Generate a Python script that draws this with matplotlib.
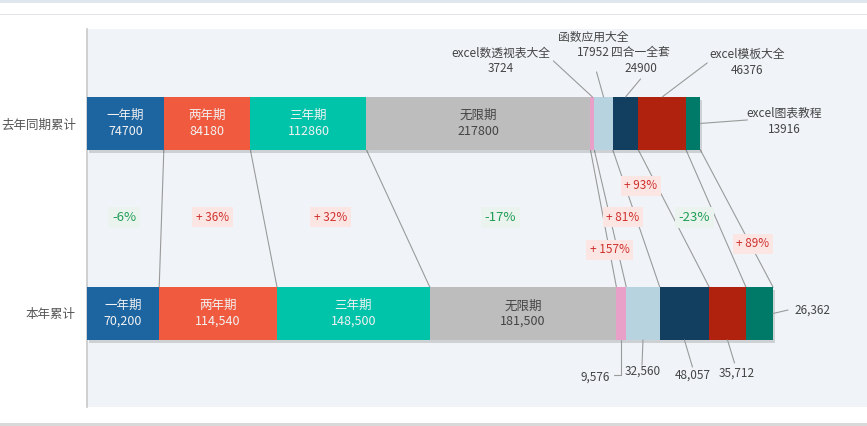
import matplotlib
matplotlib.use('Agg')
import matplotlib.pyplot as plt
import matplotlib.patheffects as pe
from matplotlib.patches import Rectangle
import numpy as np

plt.rcParams['font.family'] = ['Noto Sans CJK SC', 'DejaVu Sans']

# data
products = ['一年期', '两年期', '三年期', '无限期', 'excel数透视表大全',
            '函数应用大全', '四合一全套', 'excel模板大全', 'excel图表教程']
last_year = [74700, 84180, 112860, 217800, 3724, 17952, 24900, 46376, 13916]
this_year = [70200, 114540, 148500, 181500, 9576, 32560, 48057, 35712, 26362]
rows = ['本年累计', '去年同期累计']

colors = ['#1d65a0', '#f05a3e', '#00c4aa', '#bdbdbd', '#e8a0c8',
          '#b8d3e0', '#123e60', '#b0220e', '#007a68']
text_colors = ['#f2f2f2', '#f2f2f2', '#f2f2f2', '#444444']

# layout of the change labels: fraction of the way down between the bars, x nudge (px)
pct_t = [0.49, 0.49, 0.49, 0.49, 0.73, 0.49, 0.26, 0.49, 0.686]
pct_dx = [0, 0, 0, 0, -4, 0, 0, 0, 14]

# outside labels: (leader end offset, text offset) in pixels from the anchor
top_out = {4: ((-39, 36), (-92, 36)),
           5: ((-7, 25), (-10, 52)),
           6: ((15, 18), (15, 36)),
           7: ((45, 34), (85, 34))}
bot_out = {5: ((-1, -25), (0, -31)),
           6: ((8, -27), (8, -35)),
           7: ((7, -23), (9, -33))}

fig = plt.figure(figsize=(8.67, 4.26), dpi=100)
fig.patch.set_facecolor('white')
# page decorations
fig.add_artist(Rectangle((0, 1 - 3/426), 1, 3/426, transform=fig.transFigure, color='#dfe6ee', lw=0))
fig.add_artist(Rectangle((0, 1 - 15/426), 1, 1.2/426, transform=fig.transFigure, color='#e0e4ea', lw=0))
fig.add_artist(Rectangle((0, 0), 1, 3/426, transform=fig.transFigure, color='#d9d9d9', lw=0))

ax = fig.add_axes([87/867, 19/426, 780/867, 378/426])
ax.set_facecolor('#f0f4f8')
for s in ['top', 'right', 'bottom']:
    ax.spines[s].set_visible(False)
ax.spines['left'].set_color('#c8c8c8')
ax.spines['left'].set_linewidth(1.2)

h = 0.279
ax.set_xlim(0, 758400)
ax.set_ylim(-0.492, 1.497)
ax.set_xticks([])
ax.set_yticks([0, 1])
ax.set_yticklabels(rows, fontsize=9, color='#555555')
ax.tick_params(axis='y', length=0, pad=8)

series = {1: np.array(last_year), 0: np.array(this_year)}
cums = {}
for y, vals in series.items():
    left = np.concatenate([[0], np.cumsum(vals)[:-1]])
    cums[y] = np.cumsum(vals)
    # soft shadow under the whole bar
    ax.barh(y, vals.sum(), height=h, left=0, color='#f0f4f8', zorder=2,
            path_effects=[pe.SimplePatchShadow(offset=(1.5, -2), alpha=0.18, shadow_rgbFace='#333333'),
                          pe.Normal()])
    ax.barh(y, vals, height=h, left=left, color=colors, zorder=3)
    for i in range(4):
        val = f'{vals[i]}' if y == 1 else f'{vals[i]:,}'
        ax.text(left[i] + vals[i] / 2, y, f'{products[i]}\n{val}', ha='center', va='center',
                fontsize=9, color=text_colors[i], linespacing=1.25, zorder=4)

# connector lines between segment ends
for k in range(len(products)):
    ax.plot([cums[1][k], cums[0][k]], [1 - h / 2, h / 2], color='#9a9a9a', lw=0.8, zorder=1)

# change labels
ctop = cums[1] - np.array(last_year) / 2
cbot = cums[0] - np.array(this_year) / 2
for i in range(len(products)):
    chg = round((this_year[i] / last_year[i] - 1) * 100)
    t = pct_t[i]
    x = ctop[i] + t * (cbot[i] - ctop[i])
    yy = (1 - h / 2) - t * (1 - h)
    if chg < 0:
        txt, fc, bg, fs = f'{chg}%', '#1f9e55', '#ebf3ef', 9.5
    else:
        txt, fc, bg, fs = f'+ {chg}%', '#d0312d', '#fbe6e4', 8.5
    ax.annotate(txt, xy=(x, yy), xytext=(pct_dx[i], 0), textcoords='offset pixels',
                ha='center', va='center', fontsize=fs, color=fc, zorder=5,
                bbox=dict(boxstyle='square,pad=0.3', fc=bg, ec='none'))

lbl = dict(fontsize=8.5, color='#444444', ha='center', va='center', zorder=5)
line = dict(arrowstyle='-', color='#9a9a9a', lw=0.8, shrinkA=0, shrinkB=0)


def two_line(xy, off, name, value):
    # name above, value below, as separate texts
    ax.annotate(name, xy=xy, xytext=(off[0], off[1] + 8), textcoords='offset pixels', **lbl)
    ax.annotate(value, xy=xy, xytext=(off[0], off[1] - 8), textcoords='offset pixels', **lbl)


# top bar outside labels
for i, (le, te) in top_out.items():
    xy = (ctop[i], 1 + h / 2)
    ax.annotate('', xy=xy, xytext=le, textcoords='offset pixels', arrowprops=line)
    two_line(xy, te, products[i], f'{last_year[i]}')
ax.annotate('', xy=(cums[1][-1], 1), xytext=(47, 3.5), textcoords='offset pixels', arrowprops=line)
two_line((cums[1][-1], 1), (84, 2), products[8], f'{last_year[8]}')

# bottom bar outside labels
for i, (le, te) in bot_out.items():
    xy = (cbot[i], -h / 2)
    ax.annotate('', xy=xy, xytext=le, textcoords='offset pixels', arrowprops=line)
    ax.annotate(f'{this_year[i]:,}', xy=xy, xytext=te, textcoords='offset pixels', **lbl)
ax.annotate('', xy=(cbot[4], -h / 2), xytext=(-7, -35), textcoords='offset pixels',
            arrowprops=dict(line, connectionstyle='angle,angleA=0,angleB=90,rad=0'))
ax.annotate(f'{this_year[4]:,}', xy=(cbot[4], -h / 2), xytext=(-26, -37),
            textcoords='offset pixels', **lbl)
ax.annotate('', xy=(cums[0][-1], 0), xytext=(15, 3.5), textcoords='offset pixels', arrowprops=line)
ax.annotate(f'{this_year[8]:,}', xy=(cums[0][-1], 0), xytext=(21, 3.5),
            textcoords='offset pixels', **dict(lbl, ha='left'))

fig.savefig('out.png', dpi=100)
